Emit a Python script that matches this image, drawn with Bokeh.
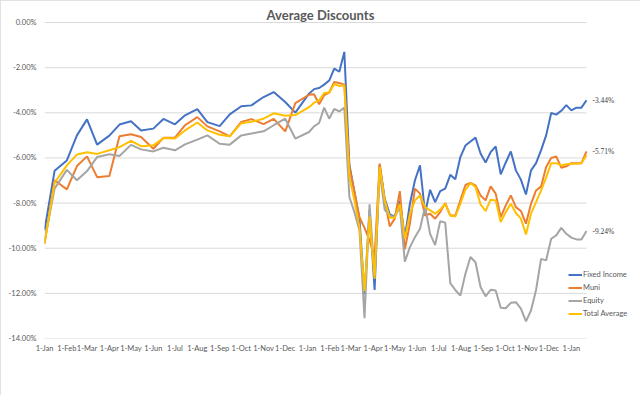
import pandas as pd
from bokeh.plotting import figure
from bokeh.models import (Range1d, FixedTicker, PrintfTickFormatter, CustomJSTickFormatter,
                          Legend, LegendItem, LabelSet, ColumnDataSource, Label)
from bokeh.embed import file_html
from bokeh.resources import INLINE

# ---------------- data ----------------
dates = [
    "2019-01-01", "2019-01-15", "2019-02-01", "2019-02-15", "2019-03-01", "2019-03-15",
    "2019-04-01", "2019-04-15", "2019-05-01", "2019-05-15", "2019-06-01", "2019-06-15",
    "2019-07-01", "2019-07-15", "2019-08-01", "2019-08-15", "2019-09-01", "2019-09-15",
    "2019-10-01", "2019-10-15", "2019-11-01", "2019-11-15", "2019-12-01", "2019-12-15",
    "2020-01-03", "2020-01-10", "2020-01-17", "2020-01-24", "2020-01-31", "2020-02-07",
    "2020-02-14", "2020-02-21", "2020-02-28", "2020-03-06", "2020-03-13", "2020-03-20",
    "2020-03-27", "2020-04-03", "2020-04-10", "2020-04-17", "2020-04-24", "2020-05-01",
    "2020-05-08", "2020-05-15", "2020-05-22", "2020-05-29", "2020-06-05", "2020-06-12",
    "2020-06-19", "2020-06-26", "2020-07-03", "2020-07-10", "2020-07-17", "2020-07-24",
    "2020-07-31", "2020-08-07", "2020-08-14", "2020-08-21", "2020-08-28", "2020-09-04",
    "2020-09-11", "2020-09-18", "2020-09-25", "2020-10-02", "2020-10-09", "2020-10-16",
    "2020-10-23", "2020-10-30", "2020-11-06", "2020-11-13", "2020-11-20", "2020-11-27",
    "2020-12-04", "2020-12-11", "2020-12-18", "2020-12-25", "2021-01-01", "2021-01-08",
    "2021-01-15", "2021-01-22",
]

fixed_income = [
    -9.21, -6.57, -6.11, -5.00, -4.29, -5.41, -5.01, -4.52, -4.37, -4.78, -4.70, -4.27,
    -4.51, -4.11, -3.84, -4.41, -4.59, -4.07, -3.71, -3.67, -3.30, -3.08, -3.52, -3.99,
    -3.15, -2.95, -2.90, -2.75, -2.57, -2.04, -2.18, -1.30, -6.30, -7.50, -8.70, -12.05,
    -8.30, -11.85, -6.30, -7.80, -8.50, -8.60, -7.90, -9.51, -8.03, -6.99, -6.33, -8.45,
    -7.41, -7.96, -7.47, -7.36, -6.75, -6.94, -5.96, -5.45, -5.27, -5.10, -5.80, -6.20,
    -5.74, -5.49, -6.73, -6.20, -5.71, -6.55, -6.96, -7.62, -6.55, -6.23, -5.65, -5.00,
    -4.01, -4.08, -3.91, -3.66, -3.89, -3.77, -3.77, -3.44,
]

muni = [
    -9.80, -6.99, -7.39, -6.36, -5.93, -6.85, -6.80, -5.04, -4.95, -5.07, -5.59, -5.11,
    -5.10, -4.55, -4.19, -4.60, -4.82, -5.04, -4.40, -4.28, -4.50, -4.27, -4.82, -3.57,
    -3.20, -3.18, -3.62, -3.22, -3.10, -2.63, -2.68, -2.75, -6.40, -7.50, -8.62, -9.10,
    -9.65, -10.39, -6.25, -7.88, -9.03, -8.69, -7.47, -10.05, -8.91, -7.36, -7.58, -8.55,
    -8.47, -8.69, -8.40, -8.00, -8.55, -8.55, -7.88, -7.20, -7.11, -7.22, -7.66, -7.88,
    -7.26, -7.58, -8.62, -8.10, -7.66, -8.18, -8.35, -8.91, -8.03, -7.44, -7.26, -6.40,
    -6.00, -5.93, -6.43, -6.37, -6.23, -6.23, -6.23, -5.71,
]

equity = [
    -9.70, -7.36, -6.53, -6.99, -6.58, -5.96, -5.84, -5.91, -5.42, -5.62, -5.71, -5.55,
    -5.66, -5.40, -5.19, -5.00, -5.37, -5.41, -5.00, -4.92, -4.82, -4.55, -4.26, -5.14,
    -4.85, -4.60, -4.45, -3.77, -4.26, -3.83, -3.94, -3.77, -7.73, -8.40, -9.20, -13.10,
    -8.05, -11.20, -6.60, -8.30, -8.55, -8.62, -8.18, -10.60, -9.95, -9.51, -9.14, -8.15,
    -9.36, -9.86, -8.80, -8.87, -11.55, -11.85, -12.10, -11.13, -10.39, -10.62, -11.72, -12.13,
    -11.84, -11.87, -12.64, -12.66, -12.42, -12.39, -12.68, -13.24, -12.76, -11.85, -10.47, -10.54,
    -9.58, -9.43, -9.10, -9.36, -9.53, -9.61, -9.61, -9.24,
]

total_average = [
    -9.80, -7.10, -6.33, -5.85, -5.75, -5.82, -5.66, -5.52, -5.24, -5.48, -5.44, -5.12,
    -5.14, -4.78, -4.43, -4.78, -4.97, -5.04, -4.46, -4.40, -4.26, -4.02, -4.13, -4.10,
    -3.75, -3.55, -3.45, -3.12, -3.10, -2.73, -2.81, -2.78, -6.85, -7.88, -9.06, -11.90,
    -8.60, -11.35, -6.40, -7.88, -8.65, -8.65, -8.03, -9.58, -8.47, -7.88, -7.66, -8.18,
    -8.32, -8.47, -8.29, -8.03, -8.55, -8.59, -8.03, -7.41, -7.11, -7.29, -8.06, -8.35,
    -7.85, -7.88, -8.84, -8.40, -8.03, -8.44, -8.69, -9.39, -8.47, -7.96, -7.44, -6.87,
    -6.23, -6.23, -6.33, -6.28, -6.26, -6.26, -6.23, -5.88,
]

series_names = ["Fixed Income", "Muni", "Equity", "Total Average"]
series_colors = ["#4472C4", "#ED7D31", "#A5A5A5", "#FFC000"]
y_ticks = [0, -2, -4, -6, -8, -10, -12, -14]
month_names = ["Jan", "Feb", "Mar", "Apr", "May", "Jun", "Jul", "Aug", "Sep", "Oct", "Nov", "Dec"]
title_text = "Average Discounts"

# ---------------- layout ----------------
FONT = "Lato"
TXT = "#595959"
GRID = "#D9D9D9"

x = pd.to_datetime(dates)
DATA_W = 542          # px from first to last date
FRAME_W = 592         # frame also holds legend / end labels on the right
PX_PER_PCT = 22.55
Y_TOP = 0.8           # headroom above 0% for the title
FRAME_H = round((Y_TOP - y_ticks[-1]) * PX_PER_PCT)
span_days = (x[-1] - x[0]).days
x_end = x[0] + pd.Timedelta(days=span_days * (FRAME_W / DATA_W))

p = figure(
    x_axis_type="datetime",
    frame_width=FRAME_W, frame_height=FRAME_H,
    min_border_left=44, min_border_right=4, min_border_top=4, min_border_bottom=57,
    x_range=Range1d(x[0], x_end), y_range=Range1d(y_ticks[-1], Y_TOP),
    output_backend="svg", toolbar_location=None,
    background_fill_color="white", border_fill_color="white",
)
p.styles = {"outline": "1px solid #D9D9D9", "outline-offset": "-1px"}
p.outline_line_color = None
p.xgrid.visible = False
p.ygrid.visible = False

# horizontal gridlines limited to the data span
p.segment(x0=[x[0]] * len(y_ticks), x1=[x[-1]] * len(y_ticks), y0=y_ticks, y1=y_ticks,
          line_color=GRID, line_width=1)

renderers = []
for vals, color in zip([fixed_income, muni, equity, total_average], series_colors):
    r = p.line(x, vals, line_color=color, line_width=2)
    renderers.append(r)

# axes
tick_dates = pd.date_range(dates[0], "2021-01-01", freq="MS")
p.xaxis.ticker = FixedTicker(ticks=[t.value / 1e6 for t in tick_dates])
p.xaxis.formatter = CustomJSTickFormatter(code="""
    const m = %s;
    const d = new Date(tick);
    return d.getUTCDate() + "-" + m[d.getUTCMonth()];
""" % str(month_names))
p.yaxis.ticker = FixedTicker(ticks=y_ticks)
p.yaxis.formatter = PrintfTickFormatter(format="%.2f%%")

for ax in (p.xaxis, p.yaxis):
    ax.axis_line_color = None
    ax.major_tick_line_color = None
    ax.minor_tick_line_color = None
    ax.major_tick_out = 0
    ax.major_tick_in = 0
    ax.minor_tick_out = 0
    ax.minor_tick_in = 0
    ax.major_label_text_font = FONT
    ax.major_label_text_font_size = "7.5px"
    ax.major_label_text_color = TXT
p.xaxis.major_label_standoff = 5
p.yaxis.major_label_standoff = 8

# legend
legend = Legend(
    items=[LegendItem(label=n, renderers=[r]) for n, r in zip(series_names, renderers)],
    location=(524, 18),
    padding=0, margin=0, spacing=0,
    glyph_width=14, glyph_height=13, label_height=13, label_standoff=1,
    label_text_font=FONT, label_text_font_size="7.5px", label_text_color=TXT,
    border_line_color=None, background_fill_alpha=0,
)
p.add_layout(legend)

# end labels
last_vals = [fixed_income[-1], muni[-1], equity[-1]]
src = ColumnDataSource(dict(
    x=[x[-1]] * 3, y=last_vals, t=["%.2f%%" % v for v in last_vals]))
p.add_layout(LabelSet(x="x", y="y", text="t", source=src, x_offset=6,
                      text_baseline="middle", text_font=FONT, text_font_size="7.5px",
                      text_color="#404040"))

# title (inside the frame's headroom)
p.add_layout(Label(x=320 - 44, y=FRAME_H - 10, x_units="screen", y_units="screen",
                   text=title_text, text_align="center", text_baseline="alphabetic",
                   text_font=FONT, text_font_size="13px", text_font_style="bold",
                   text_color=TXT))

open("out.html", "w").write(file_html(p, INLINE))
